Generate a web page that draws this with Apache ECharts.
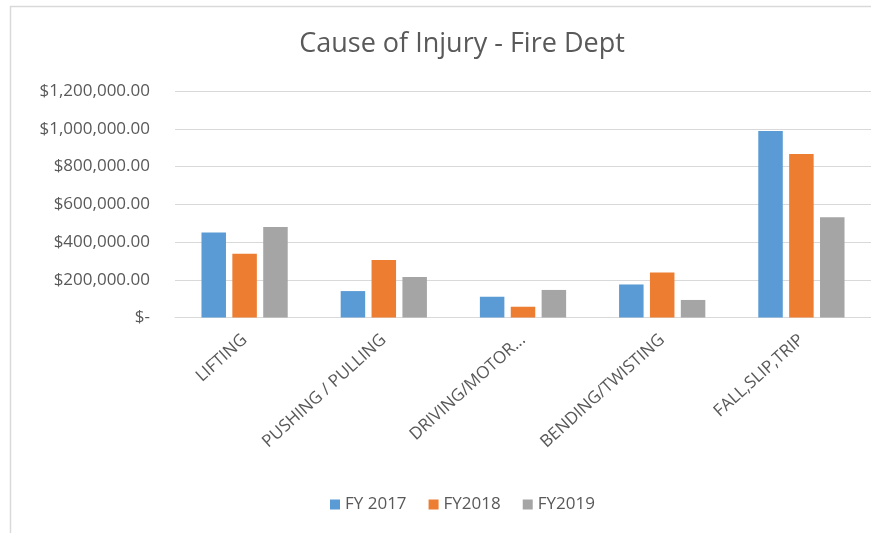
<!DOCTYPE html>
<html>
<head>
<meta charset="utf-8">
<script src="https://cdn.jsdelivr.net/npm/echarts@6/dist/echarts.min.js"></script>
<style>
  html, body { margin: 0; padding: 0; background: #fff; }
  #chart { width: 871px; height: 533px; }
</style>
</head>
<body>
<div id="chart"></div>
<script>
// categories and values
const categories = ["LIFTING", "PUSHING / PULLING", "DRIVING/MOTOR...", "BENDING/TWISTING", "FALL,SLIP,TRIP"]
const fy2017 = [450000, 140000, 110000, 175000, 988000]
const fy2018 = [338000, 305000, 57000, 239000, 866000]
const fy2019 = [479000, 215000, 146000, 93000, 531000]
const seriesNames = ["FY 2017", "FY2018", "FY2019"]
const colors = ["#5B9BD5", "#ED7D31", "#A5A5A5"]

const font = "'Open Sans', 'Liberation Sans', sans-serif"
const textColor = "#595959"

const fmtMoney = (v) => {
  if (v === 0) return "$-"
  return "$" + v.toLocaleString("en-US", { minimumFractionDigits: 2, maximumFractionDigits: 2 })
}

const myChart = echarts.init(document.getElementById("chart"))

const allData = [fy2017, fy2018, fy2019]

const option = {
  animation: false,
  color: colors,
  textStyle: { fontFamily: font },
  title: {
    text: "Cause of Injury - Fire Dept",
    left: 457,
    textAlign: "center",
    top: 26,
    textStyle: {
      fontFamily: font,
      fontSize: 27,
      fontWeight: "normal",
      color: textColor,
    },
  },
  // chart-area frame: only the top and left edges fall inside the picture
  graphic: [
    {
      type: "polyline",
      silent: true,
      shape: { points: [[10.5, 540], [10.5, 6.5], [880, 6.5]] },
      style: { fill: "none", stroke: "#D9D9D9", lineWidth: 1.5 },
    },
  ],
  legend: {
    data: seriesNames,
    left: 462,
    bottom: 15,
    icon: "rect",
    itemWidth: 10,
    itemHeight: 10,
    itemGap: 22,
    textStyle: { fontFamily: font, fontSize: 17, color: textColor },
  },
  grid: {
    left: 175,
    right: -7,
    top: 91,
    bottom: 215.5,
  },
  xAxis: {
    type: "category",
    data: categories,
    axisLine: { lineStyle: { color: "#D9D9D9" } },
    axisTick: { show: false },
    axisLabel: {
      rotate: 42,
      interval: 0,
      margin: 20,
      fontFamily: font,
      fontSize: 17,
      color: textColor,
    },
  },
  yAxis: {
    type: "value",
    min: 0,
    max: 1200000,
    interval: 200000,
    axisLine: { show: false },
    axisTick: { show: false },
    splitLine: { lineStyle: { color: "#D9D9D9" } },
    axisLabel: {
      margin: 25,
      fontFamily: font,
      fontSize: 17,
      color: textColor,
      formatter: fmtMoney,
    },
  },
  series: seriesNames.map((name, i) => ({
    name: name,
    type: "bar",
    data: allData[i],
    barWidth: 24.5,
    barGap: "26%",
  })),
}

myChart.setOption(option)
// center the legend on x=462
const legendModel = myChart.getModel().getComponent("legend")
const lv = myChart.getViewOfComponentModel(legendModel)
if (lv && lv.group) {
  const rect = lv.group.getBoundingRect()
  myChart.setOption({ legend: { left: Math.round(462 - rect.width / 2) } })
}
</script>
</body>
</html>
